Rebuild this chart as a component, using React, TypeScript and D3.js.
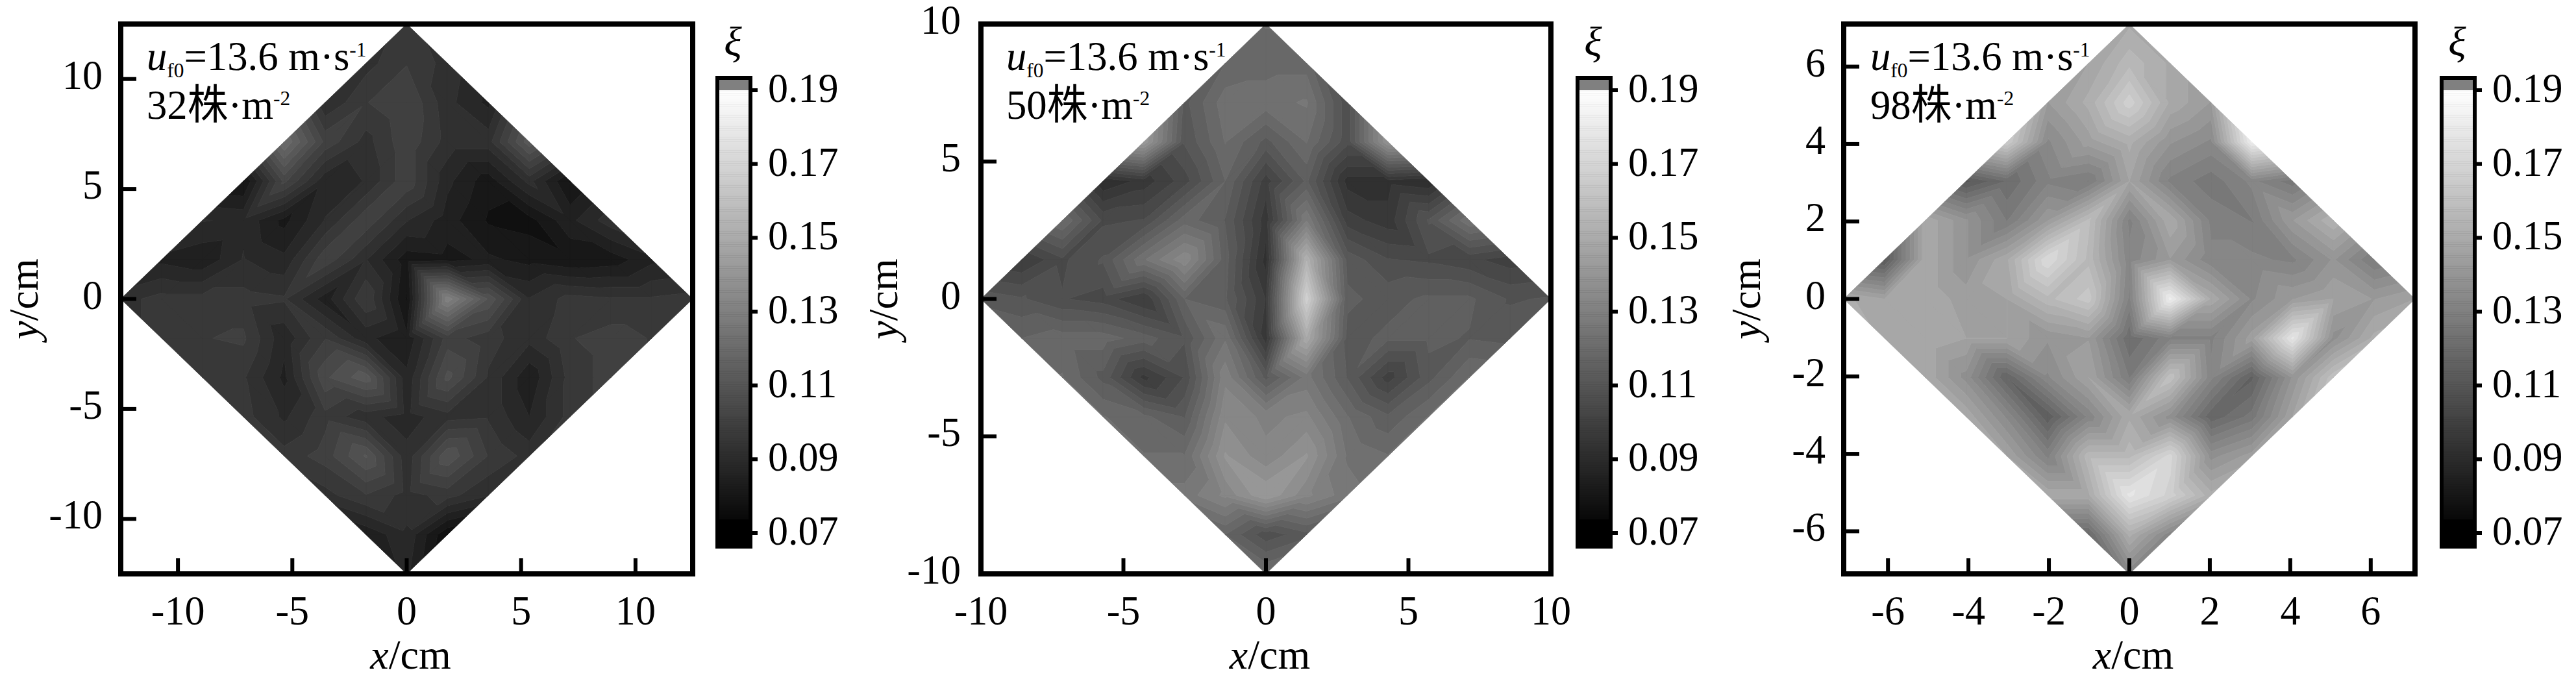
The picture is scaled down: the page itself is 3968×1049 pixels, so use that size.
import React, { useEffect, useRef } from "react";
import * as d3 from "d3";

// xi on a diamond lattice, rows from y = +R down to y = -R, each row left to right
const xi32: number[][] = [
  [0.094],
  [0.091, 0.096, 0.091],
  [0.089, 0.096, 0.1, 0.09, 0.084],
  [0.119, 0.099, 0.091, 0.099, 0.091, 0.091, 0.11],
  [0.077, 0.101, 0.086, 0.089, 0.099, 0.086, 0.079, 0.09, 0.077],
  [0.089, 0.088, 0.08, 0.089, 0.099, 0.089, 0.083, 0.077, 0.076, 0.084, 0.091],
  [0.084, 0.082, 0.089, 0.086, 0.099, 0.089, 0.079, 0.08, 0.082, 0.08, 0.078, 0.079, 0.084],
  [0.091, 0.094, 0.094, 0.094, 0.093, 0.083, 0.096, 0.077, 0.129, 0.107, 0.089, 0.094, 0.093, 0.093, 0.094],
  [0.094, 0.096, 0.097, 0.086, 0.096, 0.086, 0.082, 0.098, 0.094, 0.09, 0.096, 0.098, 0.096],
  [0.096, 0.093, 0.084, 0.103, 0.11, 0.086, 0.105, 0.092, 0.082, 0.094, 0.098],
  [0.094, 0.088, 0.095, 0.09, 0.087, 0.091, 0.092, 0.085, 0.094],
  [0.094, 0.098, 0.108, 0.09, 0.107, 0.096, 0.091],
  [0.091, 0.096, 0.091, 0.094, 0.089],
  [0.082, 0.088, 0.074],
  [0.086],
];

const xi50: number[][] = [
  [0.119],
  [0.115, 0.117, 0.117],
  [0.11, 0.121, 0.121, 0.123, 0.105],
  [0.141, 0.108, 0.119, 0.11, 0.119, 0.105, 0.138],
  [0.089, 0.094, 0.102, 0.115, 0.098, 0.112, 0.091, 0.091, 0.089],
  [0.119, 0.103, 0.104, 0.117, 0.111, 0.094, 0.126, 0.098, 0.094, 0.108, 0.122],
  [0.096, 0.103, 0.108, 0.122, 0.133, 0.113, 0.091, 0.152, 0.11, 0.104, 0.103, 0.101, 0.098],
  [0.11, 0.108, 0.104, 0.102, 0.096, 0.115, 0.112, 0.096, 0.166, 0.112, 0.11, 0.112, 0.112, 0.107, 0.108],
  [0.115, 0.117, 0.117, 0.113, 0.108, 0.122, 0.094, 0.148, 0.11, 0.112, 0.112, 0.111, 0.11],
  [0.119, 0.11, 0.095, 0.104, 0.129, 0.11, 0.124, 0.111, 0.098, 0.11, 0.119],
  [0.119, 0.116, 0.111, 0.133, 0.129, 0.131, 0.119, 0.112, 0.119],
  [0.119, 0.119, 0.138, 0.131, 0.138, 0.122, 0.119],
  [0.124, 0.131, 0.141, 0.131, 0.124],
  [0.115, 0.105, 0.11],
  [0.119],
];

const xi98: number[][] = [
  [0.148],
  [0.145, 0.155, 0.148],
  [0.141, 0.15, 0.166, 0.148, 0.141],
  [0.164, 0.133, 0.143, 0.15, 0.138, 0.133, 0.18],
  [0.11, 0.119, 0.129, 0.126, 0.145, 0.129, 0.124, 0.131, 0.124],
  [0.148, 0.138, 0.126, 0.141, 0.157, 0.129, 0.148, 0.129, 0.126, 0.141, 0.152],
  [0.11, 0.148, 0.138, 0.148, 0.171, 0.155, 0.131, 0.141, 0.131, 0.131, 0.129, 0.138, 0.126],
  [0.15, 0.145, 0.148, 0.143, 0.145, 0.155, 0.162, 0.129, 0.18, 0.148, 0.133, 0.141, 0.145, 0.141, 0.145],
  [0.148, 0.148, 0.145, 0.145, 0.138, 0.141, 0.119, 0.129, 0.129, 0.143, 0.176, 0.136, 0.15],
  [0.148, 0.136, 0.115, 0.133, 0.145, 0.126, 0.159, 0.131, 0.114, 0.138, 0.159],
  [0.148, 0.133, 0.112, 0.131, 0.148, 0.136, 0.116, 0.124, 0.145],
  [0.145, 0.129, 0.155, 0.155, 0.169, 0.136, 0.143],
  [0.148, 0.148, 0.176, 0.166, 0.15],
  [0.117, 0.15, 0.131],
  [0.131],
];

const ticks32 = [-10, -5, 0, 5, 10];
const ticks50 = [-10, -5, 0, 5, 10];
const ticks98 = [-6, -4, -2, 0, 2, 4, 6];
const barTicks = [0.07, 0.09, 0.11, 0.13, 0.15, 0.17, 0.19];
const densities = ["32", "50", "98"];

const SERIF = '"Liberation Serif", "Noto Sans CJK SC", serif';
const FRAME_TOP = 37;
const FRAME_BOTTOM = 884;
const BAR_TOP = 120;
const BAR_BOTTOM = 842;
const BAR_LOW = 0.07375;
const BAND_STEP = 0.00375;
const BAR_MAX = 0.19;
const OVER = "#808080";

const bandEdges = d3.range(0, 31).map((i) => BAR_LOW + i * BAND_STEP);
const grayOf = d3.scaleLinear().domain([0.07, BAR_MAX]).range([0, 255]).clamp(true);
const grayCss = (v: number) => {
  const g = Math.round(grayOf(v));
  return `rgb(${g},${g},${g})`;
};
// a band takes the colour of its upper edge, the lowest one goes to black
const bandColor = (i: number) => (i < 0 ? "#000" : grayCss(bandEdges[i] + BAND_STEP));

type Vert = [number, number, number];

// Sutherland-Hodgman against one iso value
const clipTo = (poly: Vert[], level: number, keepAbove: boolean): Vert[] => {
  const out: Vert[] = [];
  const inside = (p: Vert) => (keepAbove ? p[2] >= level : p[2] <= level);
  poly.forEach((p, i) => {
    const q = poly[(i + 1) % poly.length];
    if (inside(p)) out.push(p);
    if (inside(p) !== inside(q)) {
      const t = (level - p[2]) / (q[2] - p[2]);
      out.push([p[0] + t * (q[0] - p[0]), p[1] + t * (q[1] - p[1]), level]);
    }
  });
  return out;
};

const polyPath = (poly: Vert[]) =>
  "M" + poly.map((p) => `${p[0].toFixed(2)},${p[1].toFixed(2)}`).join("L") + "Z";

// mesh of the diamond: cell diagonals run parallel to the diamond side of their quadrant
const meshTriangles = (vert: (i: number, j: number) => Vert | undefined, half: number) => {
  const tris: Vert[][] = [];
  for (let j = -half; j < half; j++) {
    for (let i = -half; i < half; i++) {
      const a = vert(i, j);
      const b = vert(i + 1, j);
      const c = vert(i + 1, j + 1);
      const d = vert(i, j + 1);
      const anti = (i + 0.5) * (j + 0.5) > 0;
      const pair = anti ? [[a, b, d], [b, c, d]] : [[a, b, c], [a, c, d]];
      pair.forEach((t) => {
        if (t.every(Boolean)) tris.push(t as Vert[]);
      });
    }
  }
  return tris;
};

interface PanelLayout {
  values: number[][];
  ticks: number[];
  range: number;
  density: string;
  left: number;
  right: number;
  barLeft: number;
  yTickRight: number;
  yTitleX: number;
  noteX: number;
}

const panels: PanelLayout[] = [
  { values: xi32, ticks: ticks32, range: 12.5, density: densities[0], left: 186, right: 1067, barLeft: 1105, yTickRight: 158, yTitleX: 58, noteX: 226 },
  { values: xi50, ticks: ticks50, range: 10, density: densities[1], left: 1511, right: 2389, barLeft: 2430, yTickRight: 1480, yTitleX: 1382, noteX: 1550 },
  { values: xi98, ticks: ticks98, range: 7.1, density: densities[2], left: 2840, right: 3720, barLeft: 3761, yTickRight: 2812, yTitleX: 2711, noteX: 2881 },
];

const drawPanel = (svg: d3.Selection<SVGSVGElement, unknown, null, undefined>, p: PanelLayout) => {
  const g = svg.append("g");
  const x = d3.scaleLinear().domain([-p.range, p.range]).range([p.left, p.right]);
  const y = d3.scaleLinear().domain([-p.range, p.range]).range([FRAME_BOTTOM, FRAME_TOP]);

  // lattice points -> pixels
  const half = (p.values.length - 1) / 2;
  const step = p.range / half;
  const vert = (i: number, j: number): Vert | undefined => {
    if (Math.abs(i) + Math.abs(j) > half) return undefined;
    const row = p.values[half - j];
    return [x(i * step), y(j * step), row[i + (row.length - 1) / 2]];
  };

  // filled bands, triangle by triangle
  const paths: string[] = d3.range(-1, bandEdges.length).map(() => "");
  meshTriangles(vert, half).forEach((tri) => {
    paths.forEach((_, k) => {
      const i = k - 1;
      const lo = i < 0 ? 0 : bandEdges[i];
      const hi = i === bandEdges.length - 1 ? 1 : bandEdges[i + 1];
      const upper = clipTo(tri, lo, true);
      if (upper.length < 3) return;
      const band = clipTo(upper, hi, false);
      if (band.length < 3) return;
      paths[k] += polyPath(band);
    });
  });
  paths.forEach((d, k) => {
    if (!d) return;
    const c = bandColor(k - 1);
    g.append("path").attr("d", d).attr("fill", c).attr("stroke", c).attr("stroke-width", 0.8);
  });

  // frame
  g.append("rect")
    .attr("x", p.left)
    .attr("y", FRAME_TOP)
    .attr("width", p.right - p.left)
    .attr("height", FRAME_BOTTOM - FRAME_TOP)
    .attr("fill", "none")
    .attr("stroke", "#000")
    .attr("stroke-width", 8);

  const num = (tx: number, ty: number, s: string, anchor: string) =>
    g
      .append("text")
      .attr("transform", `translate(${tx},${ty}) scale(0.97,1)`)
      .attr("text-anchor", anchor)
      .attr("font-size", 64)
      .text(s);

  p.ticks.forEach((t) => {
    g.append("line").attr("x1", x(t)).attr("x2", x(t)).attr("y1", FRAME_BOTTOM).attr("y2", FRAME_BOTTOM - 24).attr("stroke", "#000").attr("stroke-width", 6);
    g.append("line").attr("x1", p.left).attr("x2", p.left + 24).attr("y1", y(t)).attr("y2", y(t)).attr("stroke", "#000").attr("stroke-width", 6);
    num(x(t), 962, String(t), "middle");
    num(p.yTickRight, y(t) + 15, String(t), "end");
  });

  // axis titles
  const xTitle = g.append("text").attr("x", (p.left + p.right) / 2 + 6).attr("y", 1030).attr("text-anchor", "middle").attr("font-size", 64);
  xTitle.append("tspan").attr("font-style", "italic").text("x");
  xTitle.append("tspan").text("/cm");
  const yTitle = g.append("text").attr("transform", `translate(${p.yTitleX},${(FRAME_TOP + FRAME_BOTTOM) / 2}) rotate(-90)`).attr("text-anchor", "middle").attr("font-size", 64);
  yTitle.append("tspan").attr("font-style", "italic").text("y");
  yTitle.append("tspan").text("/cm");

  // note in the corner
  const note = g.append("text").attr("transform", `translate(${p.noteX},108) scale(0.98,1)`).attr("font-size", 64);
  note.append("tspan").attr("font-style", "italic").text("u");
  note.append("tspan").attr("font-size", 32).attr("dy", 11).text("f0");
  note.append("tspan").attr("dy", -11).text("=13.6 m·s");
  note.append("tspan").attr("font-size", 32).attr("dy", -21).text("-1");
  const note2 = g.append("text").attr("transform", `translate(${p.noteX},183) scale(0.98,1)`).attr("font-size", 64);
  note2.append("tspan").text(`${p.density}株·m`);
  note2.append("tspan").attr("font-size", 32).attr("dy", -21).text("-2");

  // colour bar, finer steps than the map
  const barScale = d3.scaleLinear().domain([0.07, 0.19]).range([821, 139]);
  const barW = 51;
  g.append("rect").attr("x", p.barLeft).attr("y", BAR_TOP).attr("width", barW).attr("height", BAR_BOTTOM - BAR_TOP).attr("fill", "#000");
  d3.range(BAR_LOW, BAR_MAX, 0.0005).forEach((lo) => {
    const top = barScale(lo + 0.0005);
    g.append("rect").attr("x", p.barLeft).attr("y", top).attr("width", barW).attr("height", barScale(lo) - top + 0.5).attr("fill", grayCss(lo + 0.0005));
  });
  g.append("rect").attr("x", p.barLeft).attr("y", BAR_TOP).attr("width", barW).attr("height", barScale(BAR_MAX) - BAR_TOP).attr("fill", OVER);
  g.append("rect")
    .attr("x", p.barLeft)
    .attr("y", BAR_TOP)
    .attr("width", barW)
    .attr("height", BAR_BOTTOM - BAR_TOP)
    .attr("fill", "none")
    .attr("stroke", "#000")
    .attr("stroke-width", 6);
  barTicks.forEach((t) => {
    g.append("line").attr("x1", p.barLeft + barW).attr("x2", p.barLeft + barW + 11).attr("y1", barScale(t)).attr("y2", barScale(t)).attr("stroke", "#000").attr("stroke-width", 6);
    num(p.barLeft + 78, barScale(t) + 18, t.toFixed(2), "start");
  });
  g.append("text")
    .attr("x", p.barLeft + 24)
    .attr("y", 86)
    .attr("text-anchor", "middle")
    .attr("font-size", 64)
    .attr("font-style", "italic")
    .text("ξ");
};

const App: React.FC = () => {
  const svgRef = useRef<SVGSVGElement | null>(null);

  useEffect(() => {
    if (!svgRef.current) return;
    const svg = d3.select(svgRef.current);
    svg.selectAll("*").remove();
    svg.attr("font-family", SERIF);
    panels.forEach((p) => drawPanel(svg, p));
  }, []);

  return (
    <svg
      ref={svgRef}
      width={3968}
      height={1049}
      style={{ position: "absolute", left: 0, top: 0, background: "#fff" }}
    />
  );
};

export default App;
